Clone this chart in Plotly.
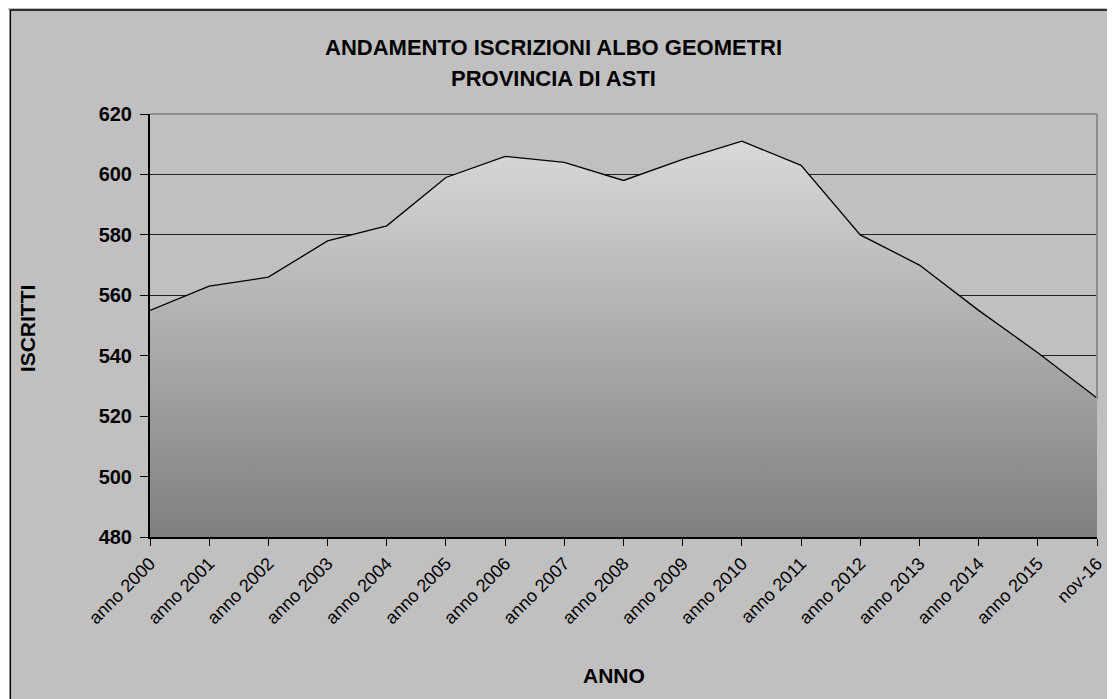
import plotly.graph_objects as go

categories = ["anno 2000", "anno 2001", "anno 2002", "anno 2003", "anno 2004",
              "anno 2005", "anno 2006", "anno 2007", "anno 2008", "anno 2009",
              "anno 2010", "anno 2011", "anno 2012", "anno 2013", "anno 2014",
              "anno 2015", "nov-16"]
iscritti = [555, 563, 566, 578, 583, 599, 606, 604, 598, 605,
            611, 603, 580, 570, 555, 541, 526]
y_ticks = [480, 500, 520, 540, 560, 580, 600, 620]

title_line1 = "ANDAMENTO ISCRIZIONI ALBO GEOMETRI"
title_line2 = "PROVINCIA DI ASTI"
x_title = "ANNO"
y_title = "ISCRITTI"

# The page body has an 8px default margin: size the figure so it fills the window.
OFF = 8
W, H = 1107, 691
L, R, T, B = 142, 9, 106, 162
pw, ph = W - L - R, H - T - B

def px(x_page):
    return (x_page - OFF - L) / pw

def py(y_page):
    return (H - B - (y_page - OFF)) / ph

FONT = "Liberation Sans, Arial, sans-serif"

fig = go.Figure()
fig.add_trace(go.Scatter(
    x=categories, y=iscritti, mode="lines",
    line=dict(color="black", width=1.3),
    fill="tozeroy",
    fillgradient=dict(type="vertical", start=480, stop=611,
                      colorscale=[[0, "#7f7f7f"], [1, "#d9d9d9"]]),
    hoverinfo="x+y", showlegend=False,
))

fig.update_layout(
    width=W, height=H, autosize=False,
    margin=dict(l=L, r=R, t=T, b=B, pad=0),
    paper_bgcolor="#c0c0c0",
    plot_bgcolor="white",
    font=dict(family=FONT, color="black"),
    showlegend=False,
    xaxis=dict(
        type="category", range=[0, len(categories) - 1],
        tickangle=-45, tickfont=dict(size=18, family=FONT),
        ticks="outside", ticklen=7, tickcolor="black", tickwidth=1,
        showline=True, linecolor="black", linewidth=2,
        showgrid=False, zeroline=False, fixedrange=True,
    ),
    yaxis=dict(
        range=[480, 620], tickvals=y_ticks,
        tickfont=dict(size=20, family=FONT, weight="bold"),
        ticks="outside", ticklen=8, tickcolor="black", tickwidth=1,
        ticklabelstandoff=4,
        showline=True, linecolor="black", linewidth=2,
        showgrid=True, gridcolor="#222222", gridwidth=1,
        zeroline=False, fixedrange=True,
    ),
    shapes=[
        dict(type="rect", xref="paper", yref="paper", layer="below",
             x0=px(-20), x1=px(1130), y0=py(720), y1=py(10),
             fillcolor="white", line=dict(width=0)),
        dict(type="rect", xref="paper", yref="paper", layer="below",
             x0=px(9), x1=px(1130), y0=py(720), y1=py(10),
             fillcolor="#c0c0c0", line=dict(color="black", width=1.5)),
        dict(type="line", xref="paper", yref="paper", layer="above",
             x0=0, x1=1, y0=1, y1=1, line=dict(color="#8c8c8c", width=2)),
        dict(type="line", xref="paper", yref="paper", layer="above",
             x0=1, x1=1, y0=py(399), y1=1, line=dict(color="#8c8c8c", width=2)),
    ],
    annotations=[
        dict(text=f"<b>{title_line1}</b>", xref="paper", yref="paper",
             x=px(557), y=py(47), showarrow=False, xanchor="center", yanchor="middle",
             font=dict(size=22, family=FONT)),
        dict(text=f"<b>{title_line2}</b>", xref="paper", yref="paper",
             x=px(557), y=py(78), showarrow=False, xanchor="center", yanchor="middle",
             font=dict(size=22, family=FONT)),
        dict(text=f"<b>{x_title}</b>", xref="paper", yref="paper",
             x=px(618), y=py(675), showarrow=False, xanchor="center", yanchor="middle",
             font=dict(size=21, family=FONT)),
        dict(text=f"<b>{y_title}</b>", xref="paper", yref="paper",
             x=px(26), y=py(328), showarrow=False, xanchor="center", yanchor="middle",
             textangle=-90, font=dict(size=21, family=FONT)),
    ],
)

fig.write_html("out.html")
